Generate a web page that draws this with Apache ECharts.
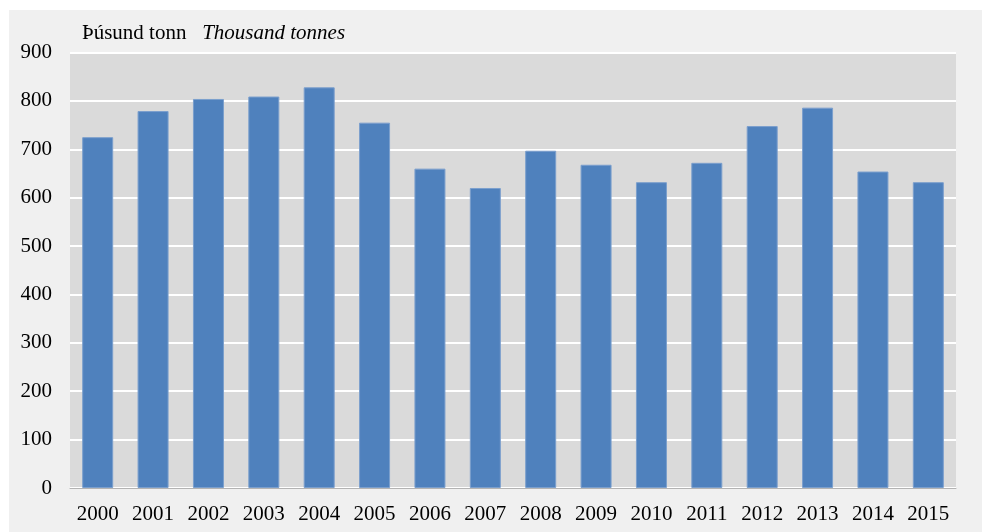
<!DOCTYPE html>
<html lang="is">
<head>
    <meta charset="UTF-8">
    <title>Þúsund tonn</title>
    <script src="https://cdn.jsdelivr.net/npm/echarts@6/dist/echarts.min.js"></script>
    <style>
        html, body {
            margin: 0;
            padding: 0;
            background-color: #ffffff;
        }
        #chart {
            width: 982px;
            height: 532px;
        }
    </style>
</head>
<body>
    <div id="chart"></div>
    <script>
        // Data
        var years = ['2000', '2001', '2002', '2003', '2004', '2005', '2006', '2007',
                     '2008', '2009', '2010', '2011', '2012', '2013', '2014', '2015'];
        var tonnes = [725, 779, 804, 809, 828, 755, 660, 620,
                      697, 668, 632, 672, 748, 786, 654, 632];
        var yTicks = [0, 100, 200, 300, 400, 500, 600, 700, 800, 900];

        var chart = echarts.init(document.getElementById('chart'));

        var option = {
            backgroundColor: '#ffffff',
            animation: false,
            textStyle: {
                fontFamily: '"Liberation Serif", "DejaVu Serif", serif'
            },
            graphic: [{
                type: 'rect',
                z: -10,
                shape: { x: 9, y: 10, width: 973, height: 522 },
                style: { fill: '#f0f0f0' }
            }],
            title: {
                left: 77,
                top: 18,
                text: '{a|Þúsund tonn}   {b|Thousand tonnes}',
                textStyle: {
                    fontWeight: 'normal',
                    fontSize: 21,
                    rich: {
                        a: { fontSize: 21, color: '#000', fontWeight: 'normal', fontFamily: '"Liberation Serif", serif' },
                        b: { fontSize: 21, color: '#000', fontWeight: 'normal', fontStyle: 'italic', fontFamily: '"Liberation Serif", serif' }
                    }
                }
            },
            grid: {
                left: 70,
                right: 26,
                top: 52.5,
                bottom: 44,
                show: true,
                backgroundColor: '#dadada',
                borderWidth: 0
            },
            xAxis: {
                type: 'category',
                data: years,
                axisLine: { show: true, lineStyle: { color: '#b3b3b3', width: 1 } },
                axisTick: { show: false },
                axisLabel: { color: '#000', fontSize: 21, margin: 16 }
            },
            yAxis: {
                type: 'value',
                min: yTicks[0],
                max: yTicks[yTicks.length - 1],
                interval: 100,
                axisLine: { show: false },
                axisTick: { show: false },
                axisLabel: { color: '#000', fontSize: 21, margin: 18 },
                splitLine: { show: true, lineStyle: { color: '#ffffff', width: 2 } }
            },
            series: [{
                type: 'bar',
                data: tonnes,
                barWidth: 31,
                itemStyle: {
                    color: '#4f81bd',
                    borderColor: '#7b9fcd',
                    borderWidth: 1
                }
            }]
        };

        chart.setOption(option);
    </script>
</body>
</html>
